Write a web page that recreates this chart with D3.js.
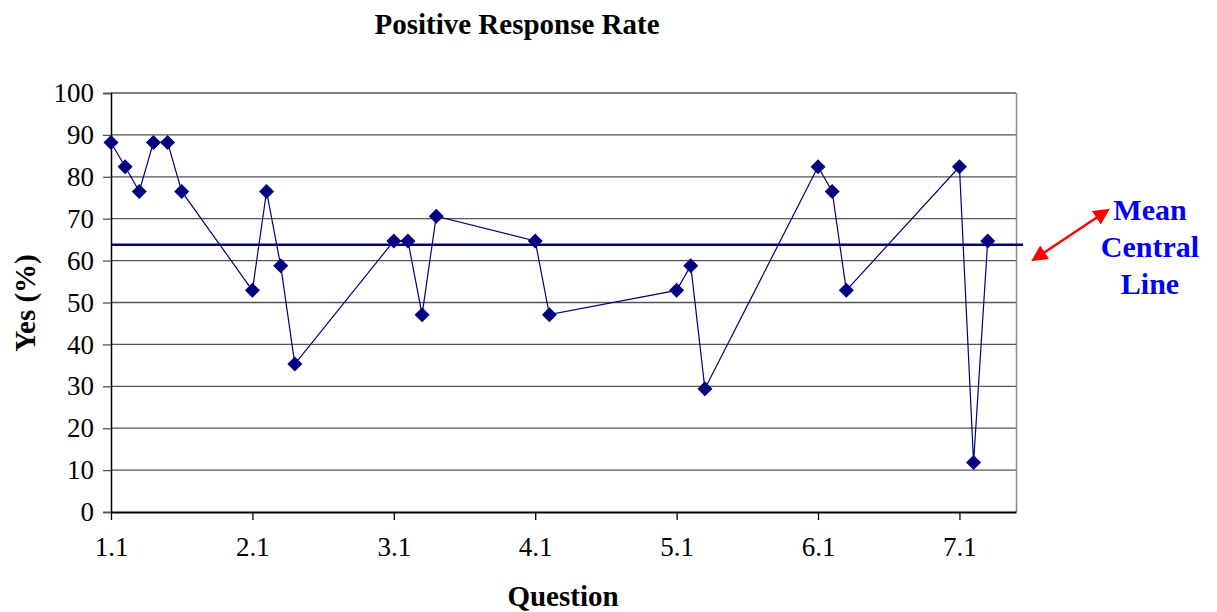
<!DOCTYPE html>
<html>
<head>
<meta charset="utf-8">
<script src="https://cdn.jsdelivr.net/npm/d3@7"></script>
<style>
  body { margin: 0; background: #fff; }
  svg { font-family: "Liberation Serif", "Times New Roman", serif; }
</style>
</head>
<body>
<svg id="chart" width="1217" height="612"></svg>
<script>
// Question numbers and the share of "Yes" answers for each
const questions = [1.1, 1.2, 1.3, 1.4, 1.5, 1.6,
                   2.1, 2.2, 2.3, 2.4,
                   3.1, 3.2, 3.3, 3.4,
                   4.1, 4.2,
                   5.1, 5.2, 5.3,
                   6.1, 6.2, 6.3,
                   7.1, 7.2, 7.3];
const yesPercent = [88.2, 82.4, 76.5, 88.2, 88.2, 76.5,
                    52.9, 76.5, 58.8, 35.3,
                    64.7, 64.7, 47.1, 70.6,
                    64.7, 47.1,
                    52.9, 58.8, 29.4,
                    82.4, 76.5, 52.9,
                    82.4, 11.8, 64.7];
const xTickValues = [1.1, 2.1, 3.1, 4.1, 5.1, 6.1, 7.1];
const yTickValues = [0, 10, 20, 30, 40, 50, 60, 70, 80, 90, 100];
const meanLabel = ["Mean", "Central", "Line"];

const data = questions.map((q, i) => ({ q, v: yesPercent[i] }));
const mean = d3.mean(yesPercent);

const svg = d3.select("#chart");
const plotLeft = 111, plotRight = 1016, plotTop = 93, plotBottom = 512;

const x = d3.scaleLinear().domain([1.1, 7.5]).range([plotLeft, plotRight]);
const y = d3.scaleLinear().domain([0, 100]).range([plotBottom, plotTop]);

// horizontal gridlines
svg.append("g")
  .selectAll("line")
  .data(yTickValues.filter(d => d > 0))
  .join("line")
  .attr("x1", plotLeft).attr("x2", plotRight)
  .attr("y1", d => y(d)).attr("y2", d => y(d))
  .attr("stroke", "#555").attr("stroke-width", 1.3);

// right border of plot area
svg.append("line")
  .attr("x1", plotRight + 0.5).attr("x2", plotRight + 0.5)
  .attr("y1", plotTop).attr("y2", plotBottom)
  .attr("stroke", "#888").attr("stroke-width", 1.5);

// y axis
const yAxis = svg.append("g")
  .attr("transform", `translate(${plotLeft},0)`)
  .call(d3.axisLeft(y).tickValues(yTickValues).tickSize(8).tickPadding(9));
yAxis.select(".domain").attr("stroke", "#000").attr("stroke-width", 1.5);
yAxis.selectAll(".tick line").attr("stroke", "#555").attr("stroke-width", 1.3);
yAxis.selectAll("text").attr("font-size", 27).attr("fill", "#000")
  .attr("font-family", "Liberation Serif, serif");

// x axis
const xAxis = svg.append("g")
  .attr("transform", `translate(0,${plotBottom})`)
  .call(d3.axisBottom(x).tickValues(xTickValues).tickFormat(d3.format(".1f"))
        .tickSize(8).tickSizeOuter(0).tickPadding(17));
xAxis.select(".domain").attr("stroke", "#000").attr("stroke-width", 2);
xAxis.selectAll(".tick line").attr("stroke", "#000").attr("stroke-width", 1.3);
xAxis.selectAll("text").attr("font-size", 27).attr("fill", "#000")
  .attr("font-family", "Liberation Serif, serif");

// mean central line
svg.append("line")
  .attr("x1", plotLeft).attr("x2", x(7.55))
  .attr("y1", y(mean)).attr("y2", y(mean))
  .attr("stroke", "#000080").attr("stroke-width", 2.5);

// data series
svg.append("path")
  .datum(data)
  .attr("fill", "none")
  .attr("stroke", "#000080")
  .attr("stroke-width", 1.2)
  .attr("d", d3.line().x(d => x(d.q)).y(d => y(d.v)));

svg.append("g")
  .selectAll("path")
  .data(data)
  .join("path")
  .attr("transform", d => `translate(${x(d.q)},${y(d.v)})`)
  .attr("d", "M0,-7.5L7.5,0L0,7.5L-7.5,0Z")
  .attr("fill", "#000080");

// title and axis titles
svg.append("text")
  .attr("x", 517).attr("y", 34)
  .attr("text-anchor", "middle")
  .attr("font-size", 29).attr("font-weight", "bold")
  .text("Positive Response Rate");

svg.append("text")
  .attr("x", 563).attr("y", 606)
  .attr("text-anchor", "middle")
  .attr("font-size", 29).attr("font-weight", "bold")
  .text("Question");

svg.append("text")
  .attr("transform", "translate(35,303) rotate(-90)")
  .attr("text-anchor", "middle")
  .attr("font-size", 29).attr("font-weight", "bold")
  .text("Yes (%)");

// annotation: double-headed arrow and label
const defs = svg.append("defs");
["start", "end"].forEach(k => {
  defs.append("marker")
    .attr("id", "arrow-" + k)
    .attr("viewBox", "0 0 10 10")
    .attr("refX", 2).attr("refY", 5)
    .attr("markerWidth", 6.5).attr("markerHeight", 6.5)
    .attr("orient", k === "start" ? "auto-start-reverse" : "auto")
    .append("path")
    .attr("d", "M0,0L10,5L0,10Z")
    .attr("fill", "#ff0000");
});
svg.append("line")
  .attr("x1", 1042).attr("y1", 254)
  .attr("x2", 1099).attr("y2", 216)
  .attr("stroke", "#ff0000").attr("stroke-width", 2.5)
  .attr("marker-start", "url(#arrow-start)")
  .attr("marker-end", "url(#arrow-end)");

svg.append("g")
  .selectAll("text")
  .data(meanLabel)
  .join("text")
  .attr("x", 1150)
  .attr("y", (d, i) => 220 + i * 37)
  .attr("text-anchor", "middle")
  .attr("font-size", 30).attr("font-weight", "bold")
  .attr("fill", "#0000ff")
  .text(d => d);
</script>
</body>
</html>
